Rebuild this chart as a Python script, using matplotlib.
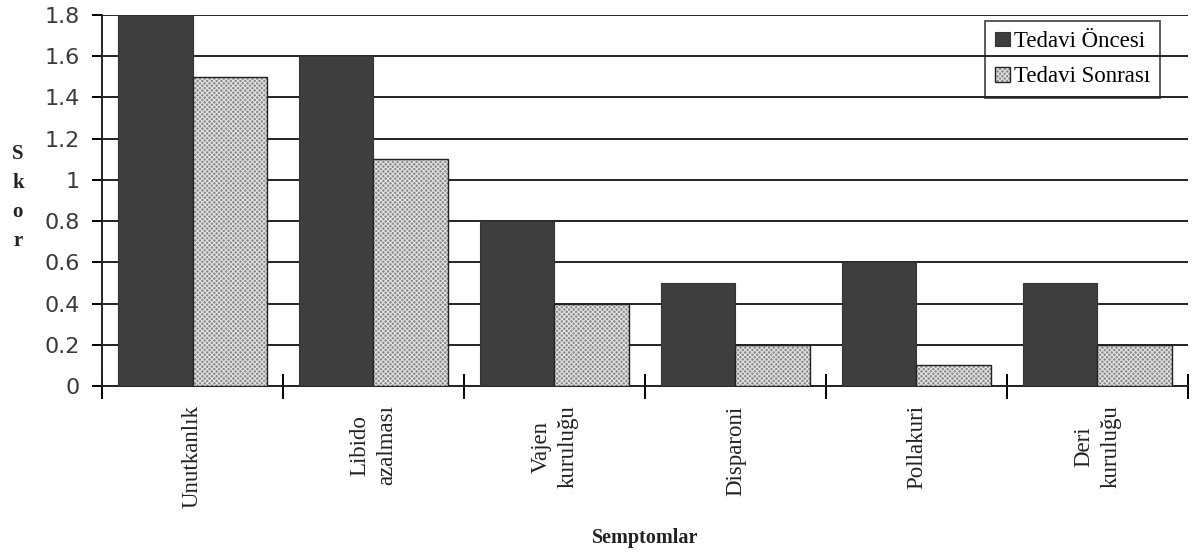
import numpy as np
import matplotlib.pyplot as plt
from matplotlib.patches import Patch

# veriler
kategoriler = ['Unutkanlık', 'Libido\nazalması', 'Vajen\nkuruluğu',
               'Disparoni', 'Pollakuri', 'Deri\nkuruluğu']
oncesi = [1.8, 1.6, 0.8, 0.5, 0.6, 0.5]
sonrasi = [1.5, 1.1, 0.4, 0.2, 0.1, 0.2]
y_ticks = [0, 0.2, 0.4, 0.6, 0.8, 1, 1.2, 1.4, 1.6, 1.8]
y_tick_labels = ['0', '0.2', '0.4', '0.6', '0.8', '1', '1.2', '1.4', '1.6', '1.8']

serif = ['Liberation Serif', 'DejaVu Serif']
sans = ['DejaVu Sans']

plt.rcParams['hatch.linewidth'] = 0.8

fig = plt.figure(figsize=(11.95, 5.55), dpi=100)
ax = fig.add_axes([0.0854, 0.3045, 0.9086, 0.6685])

x = np.arange(len(kategoriler))
w = 0.41
ax.bar(x - w / 2, oncesi, w, color='#3e3e3e', edgecolor='#333333', lw=0.8,
       zorder=3)
# taramalı çubuk: önce desen (hatch rengi = edgecolor), sonra çerçeve
ax.bar(x + w / 2, sonrasi, w, color='#8a8a8a', edgecolor='#e2e2e2', lw=0,
       hatch='x' * 7, zorder=3)
ax.bar(x + w / 2, sonrasi, w, fill=False, edgecolor='#222222', lw=1.0, zorder=4)

ax.set_xlim(-0.5, len(kategoriler) - 0.5)
ax.set_ylim(0, 1.8)

ax.set_yticks(y_ticks)
ax.set_yticklabels(y_tick_labels, family=sans, fontsize=16, color='#3a3a3a')
ax.yaxis.grid(True, color='#222222', lw=1.4, zorder=0)
ax.tick_params(axis='y', direction='out', length=7, width=1.4, pad=9)

# kategoriler arasındaki çentikler
ax.set_xticks(np.arange(len(kategoriler) + 1) - 0.5)
ax.set_xticks(x, minor=True)
ax.set_xticklabels([])
ax.set_xticklabels(kategoriler, minor=True, rotation=90, family=serif,
                   fontsize=16.5, va='top', ha='center', linespacing=1.35,
                   color='#222222')
ax.tick_params(axis='x', which='major', direction='inout', length=18, width=1.4)
ax.tick_params(axis='x', which='minor', length=0, pad=14)

for s in ['top', 'right']:
    ax.spines[s].set_visible(False)
for s in ['left', 'bottom']:
    ax.spines[s].set_linewidth(1.4)
    ax.spines[s].set_color('#222222')

ax.set_xlabel('Semptomlar', family=serif, fontsize=14.5, fontweight='bold',
              labelpad=14, color='#222222')
fig.text(0.015, 0.645, 'S\nk\no\nr', family=serif, fontsize=15, fontweight='bold',
         ha='center', va='center', linespacing=1.6, color='#222222')

h1 = Patch(facecolor='#3e3e3e', edgecolor='#333333', lw=0.8)
h2 = (Patch(facecolor='#8a8a8a', edgecolor='#e2e2e2', lw=0, hatch='x' * 7),
      Patch(fill=False, edgecolor='#222222', lw=1.0))
leg = ax.legend([h1, h2], ['Tedavi Öncesi', 'Tedavi Sonrası'],
                loc='upper right', bbox_to_anchor=(0.9745, 0.984),
                prop={'family': serif, 'size': 16.5},
                frameon=True, fancybox=False, edgecolor='#222222',
                handlelength=0.65, handleheight=0.6, handletextpad=0.15,
                borderpad=0.45, labelspacing=0.62, borderaxespad=0)
leg.get_frame().set_facecolor('none')
leg.get_frame().set_linewidth(1.3)

fig.savefig('out.png', dpi=100)
